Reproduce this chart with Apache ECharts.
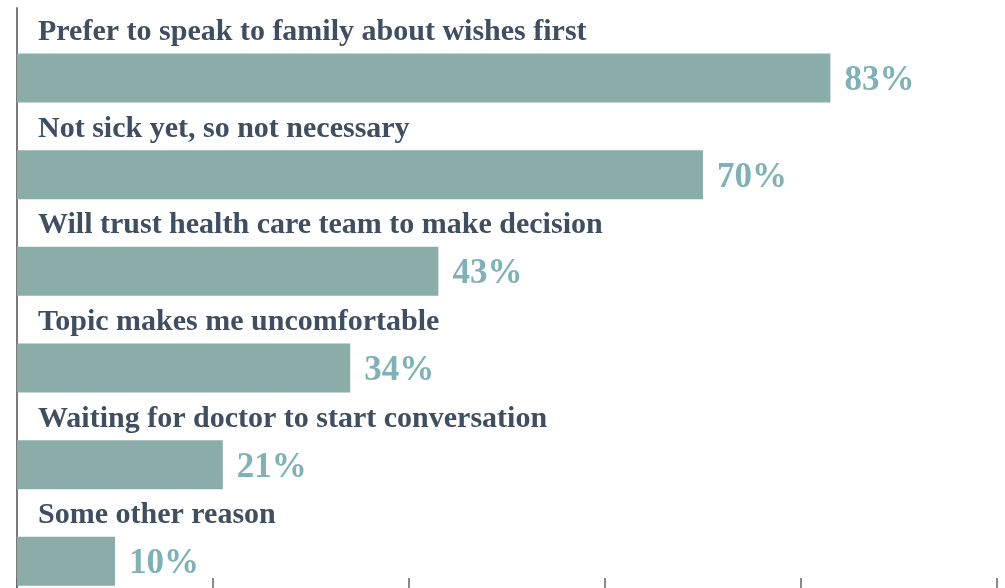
<!DOCTYPE html>
<html><head><meta charset="utf-8">
<script src="https://cdn.jsdelivr.net/npm/echarts@6/dist/echarts.min.js"></script>
<style>html,body{margin:0;padding:0;background:#fff}#c{width:1005px;height:588px}</style>
</head><body><div id="c"></div>
<script>
const categories = [
  "Prefer to speak to family about wishes first",
  "Not sick yet, so not necessary",
  "Will trust health care team to make decision",
  "Topic makes me uncomfortable",
  "Waiting for doctor to start conversation",
  "Some other reason"
];
const values = [83, 70, 43, 34, 21, 10];
const xTicks = [0, 20, 40, 60, 80, 100];

const chart = echarts.init(document.getElementById('c'), null, {renderer: 'canvas'});
const serif = '"Liberation Serif", "DejaVu Serif", serif';
chart.setOption({
  animation: false,
  backgroundColor: '#ffffff',
  grid: {left: 17, right: 8, top: 8, bottom: -6, containLabel: false},
  xAxis: {
    type: 'value', min: xTicks[0], max: xTicks[xTicks.length - 1], interval: 20,
    axisLine: {show: false},
    axisTick: {show: true, inside: true, length: 10, lineStyle: {color: '#666', width: 1.5}},
    axisLabel: {show: false},
    splitLine: {show: false}
  },
  yAxis: {
    type: 'category', data: categories, inverse: true,
    axisLine: {show: true, lineStyle: {color: '#7a7a7a', width: 2}},
    axisTick: {show: false},
    axisLabel: {show: false}
  },
  series: [
    {
      type: 'bar', data: values, barWidth: 49, barGap: '-11.4%',
      itemStyle: {color: 'rgba(0,0,0,0)'},
      silent: true,
      label: {
        show: true, position: [21, 22], align: 'left', verticalAlign: 'middle',
        formatter: p => categories[p.dataIndex],
        fontFamily: serif, fontWeight: 'bold', fontSize: 30, color: '#3f4e60'
      }
    },
    {
      type: 'bar', data: values, barWidth: 49,
      itemStyle: {color: '#8aadaa'},
      label: {
        show: true, position: 'right', distance: 14, offset: [0, 3],
        formatter: p => p.value + '%',
        fontFamily: serif, fontWeight: 'bold', fontSize: 35, color: '#7fb2b6'
      }
    }
  ]
});
</script></body></html>
